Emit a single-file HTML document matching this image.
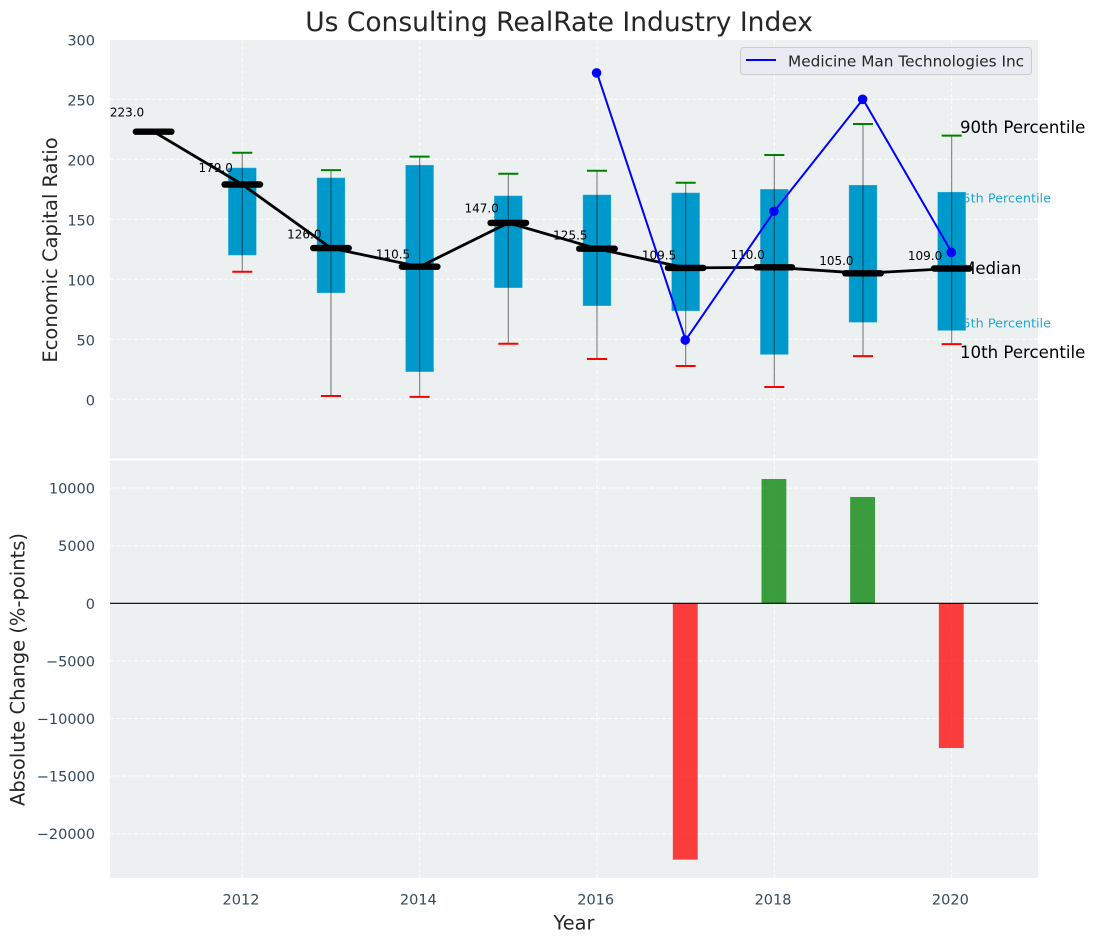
<!DOCTYPE html>
<html>
<head>
<meta charset="utf-8">
<title>Us Consulting RealRate Industry Index</title>
<style>
html,body{margin:0;padding:0;background:#fff;}
svg{display:block;font-family:"DejaVu Sans","Liberation Sans",sans-serif;}
</style>
</head>
<body>
<svg id="chart" xmlns="http://www.w3.org/2000/svg" width="1095" height="942" viewBox="0 0 1095 942">
  <rect x="0" y="0" width="1095" height="942" fill="#ffffff"/>
  <rect x="110" y="40" width="928" height="418.5" fill="#ecf0f1"/>
  <rect x="110" y="460.5" width="928" height="417.5" fill="#ecf0f1"/>
  <g id="grid"></g>
  <g id="ticks"></g>
  <g id="bars"></g>
  <line x1="110" x2="1038" y1="603.3" y2="603.3" stroke="#000000" stroke-width="1.2"/>
  <text x="1051" y="202.5" text-anchor="end" font-size="12.8" fill="#0099cc" opacity="0.85">75th Percentile</text>
  <text x="1051" y="327.5" text-anchor="end" font-size="12.8" fill="#0099cc" opacity="0.85">25th Percentile</text>
  <text x="960" y="133" font-size="16.6" fill="#000000">90th Percentile</text>
  <text x="961" y="274" font-size="16.6" fill="#000000">Median</text>
  <text x="960" y="358" font-size="16.6" fill="#000000">10th Percentile</text>
  <g id="boxes"></g>
  <g id="whiskers"></g>
  <g id="medianLabels"></g>
  <g id="medians"></g>
  <g id="company"></g>
  <g>
    <rect x="740.5" y="47.5" width="291" height="27" rx="3" fill="#eaeaf2" fill-opacity="0.8" stroke="#cccccc" stroke-width="1"/>
    <line x1="746" x2="776" y1="60" y2="60" stroke="#0000ff" stroke-width="2"/>
    <text x="788" y="66.3" font-size="15.3" fill="#262626">Medicine Man Technologies Inc</text>
  </g>
  <text x="559" y="31" text-anchor="middle" font-size="26.5" fill="#262626">Us Consulting RealRate Industry Index</text>
  <text transform="translate(57,250) rotate(-90)" text-anchor="middle" font-size="19.5" fill="#262626">Economic Capital Ratio</text>
  <text transform="translate(24.5,669.5) rotate(-90)" text-anchor="middle" font-size="19.5" fill="#262626">Absolute Change (%-points)</text>
  <text x="574" y="929.5" text-anchor="middle" font-size="19.4" fill="#262626">Year</text>
</svg>
<script>
const medianYears = [2011, 2012, 2013, 2014, 2015, 2016, 2017, 2018, 2019, 2020];
const medianValues = [223, 179, 126, 110.5, 147, 125.5, 109.5, 110, 105, 109];
const medianLabels = ['223.0', '179.0', '126.0', '110.5', '147.0', '125.5', '109.5', '110.0', '105.0', '109.0'];
const boxYears = [2012, 2013, 2014, 2015, 2016, 2017, 2018, 2019, 2020];
const boxLow = [120, 88.6, 22.8, 92.8, 77.8, 73.6, 37.2, 64, 57.2];
const boxHigh = [193, 184.7, 195.3, 169.7, 170.5, 172.2, 175.2, 178.6, 172.8];
const whiskerLow = [106.3, 2.8, 2, 46.3, 33.6, 27.8, 10.3, 36, 46];
const whiskerHigh = [205.5, 191, 202.2, 188, 190.5, 180.5, 203.6, 229.4, 219.7];
const companyYears = [2016, 2017, 2018, 2019, 2020];
const companyValues = [272, 49.4, 156.7, 250, 122.5];
const changeYears = [2017, 2018, 2019, 2020];
const changeValues = [-22250, 10790, 9230, -12560];
const xTicks = [2012, 2014, 2016, 2018, 2020];
const topYTicks = [0, 50, 100, 150, 200, 250, 300];
const bottomYTicks = [-20000, -15000, -10000, -5000, 0, 5000, 10000];

const NS = 'http://www.w3.org/2000/svg';
const xPos = function (year) { return 242.3 + (year - 2012) * 88.67; };
const yTop = function (v) { return 399.3 - v * 1.2; };
const yBottom = function (v) { return 603.3 - v * 57.6 / 5000; };
const BOX_WIDTH = 0.32;
const CAP_HALF = 0.113;
const MEDIAN_HALF = 0.2;
const BAR_WIDTH = 0.28;
const LABEL_LIFT = 1.05;

function make(tag, parentId, attrs, text) {
  const node = document.createElementNS(NS, tag);
  Object.keys(attrs).forEach(function (k) { node.setAttribute(k, attrs[k]); });
  if (text !== undefined) { node.textContent = text; }
  document.getElementById(parentId).appendChild(node);
  return node;
}
const GRID = { stroke: '#ffffff', 'stroke-width': 1, 'stroke-dasharray': '4 2', opacity: 0.9 };

xTicks.forEach(function (t) {
  const a = make('line', 'grid', Object.assign({ x1: xPos(t), x2: xPos(t), y1: 40, y2: 458.5 }, GRID));
  
  
  const b = make('line', 'grid', Object.assign({ x1: xPos(t), x2: xPos(t), y1: 460.5, y2: 878 }, GRID));
  
  
  const l = make('text', 'ticks', { x: xPos(t) - 1.3, y: 904.3, 'text-anchor': 'middle', 'font-size': 14.5, fill: '#34495e' }, String(t));
  
  
});
topYTicks.forEach(function (t) {
  const g = make('line', 'grid', Object.assign({ x1: 110, x2: 1038, y1: yTop(t), y2: yTop(t) }, GRID));
  
  
  const l = make('text', 'ticks', { x: 95, y: yTop(t) + 6, 'text-anchor': 'end', 'font-size': 14.5, fill: '#34495e' }, String(t));
  
  
});
bottomYTicks.forEach(function (t) {
  const g = make('line', 'grid', Object.assign({ x1: 110, x2: 1038, y1: yBottom(t), y2: yBottom(t) }, GRID));
  
  
  const l = make('text', 'ticks', { x: 95, y: yBottom(t) + 5.5, 'text-anchor': 'end', 'font-size': 14.5, fill: '#34495e' }, String(t).replace('-', '\u2212'));
  
  
});

changeYears.forEach(function (year, i) {
  const v = changeValues[i];
  const y0 = yBottom(Math.max(v, 0));
  const y1 = yBottom(Math.min(v, 0));
  const half = BAR_WIDTH / 2;
  const bar = make('rect', 'bars', {
    x: xPos(year - half) - 0.4, y: y0, width: xPos(year + half) - xPos(year - half), height: y1 - y0,
    fill: v >= 0 ? '#008000' : '#ff0000', 'fill-opacity': 0.75
  });
  
  
});

boxYears.forEach(function (year, i) {
  const half = BOX_WIDTH / 2;
  const box = make('rect', 'boxes', {
    x: xPos(year - half), y: yTop(boxHigh[i]), width: xPos(year + half) - xPos(year - half),
    height: yTop(boxLow[i]) - yTop(boxHigh[i]), fill: '#0099cc', stroke: '#ffffff', 'stroke-opacity': 0.25, 'stroke-width': 1
  });
  
  
  const w = make('line', 'whiskers', {
    x1: xPos(year), x2: xPos(year), y1: yTop(whiskerHigh[i]), y2: yTop(whiskerLow[i]), stroke: '#000000', 'stroke-opacity': 0.45, 'stroke-width': 1.2
  });
  
  
  const hi = make('line', 'whiskers', {
    x1: xPos(year - CAP_HALF), x2: xPos(year + CAP_HALF), y1: yTop(whiskerHigh[i]), y2: yTop(whiskerHigh[i]), stroke: '#008000', 'stroke-width': 2
  });
  
  
  const lo = make('line', 'whiskers', {
    x1: xPos(year - CAP_HALF), x2: xPos(year + CAP_HALF), y1: yTop(whiskerLow[i]), y2: yTop(whiskerLow[i]), stroke: '#ff0000', 'stroke-width': 2
  });
  
  
});

medianYears.forEach(function (year, i) {
  const t = make('text', 'medianLabels', { x: xPos(year) - 43.8, y: yTop(medianValues[i] * LABEL_LIFT) - 1.8, 'font-size': 12, fill: '#000000' }, medianLabels[i]);
  
  
});
const medianLine = make('polyline', 'medians', {
  points: medianYears.map(function (y, i) { return xPos(y) + ',' + yTop(medianValues[i]); }).join(' '),
  fill: 'none', stroke: '#000000', 'stroke-width': 2.8, 'stroke-linejoin': 'round'
});


medianYears.forEach(function (year, i) {
  const m = make('line', 'medians', {
    x1: xPos(year - MEDIAN_HALF), x2: xPos(year + MEDIAN_HALF), y1: yTop(medianValues[i]), y2: yTop(medianValues[i]),
    stroke: '#000000', 'stroke-width': 6.4, 'stroke-linecap': 'round'
  });
  
  
});

const companyLine = make('polyline', 'company', {
  points: companyYears.map(function (y, i) { return xPos(y) + ',' + yTop(companyValues[i]); }).join(' '),
  fill: 'none', stroke: '#0000ff', 'stroke-width': 2, 'stroke-linejoin': 'round'
});


companyYears.forEach(function (year, i) {
  const p = make('circle', 'company', { cx: xPos(year) - 0.4, cy: yTop(companyValues[i]), r: 4.8, fill: '#0000ff' });
  
  
});
</script>
</body>
</html>
